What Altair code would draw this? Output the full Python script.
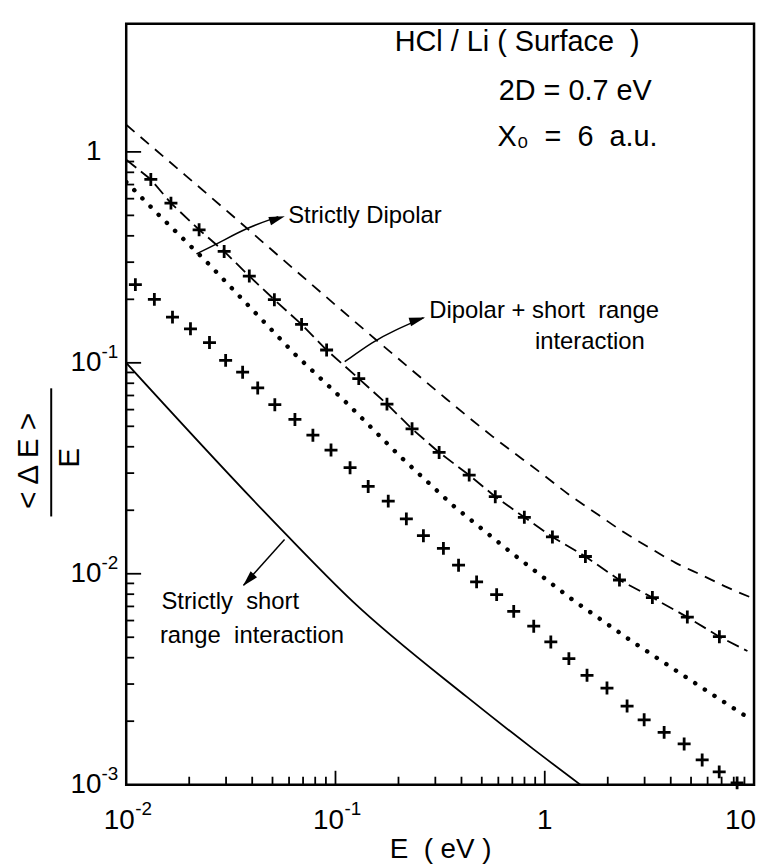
import altair as alt
import pandas as pd

# ---------------- values ----------------
# upper dashed curve
DASH_E = [0.01, 0.0178, 0.0316, 0.0562, 0.1, 0.178, 0.316, 0.562, 1.0, 1.33, 1.78, 2.37, 3.16, 4.22, 5.62, 7.5, 10]
DASH_R = [1.345, 0.825, 0.506, 0.308, 0.188, 0.1152, 0.0714, 0.0448, 0.0291, 0.0234, 0.0192, 0.0158, 0.0133, 0.01126, 0.00986, 0.00859, 0.00762]

# dashed curve with "+" markers (Dipolar + short range interaction)
DP_START = (0.01, 0.918)
DP_END = (9.3, 0.0043)
DP_E = [0.01311, 0.01636, 0.0223, 0.02938, 0.03874, 0.05105, 0.06886, 0.0907, 0.1292, 0.1762, 0.2322,
        0.3128, 0.4354, 0.5801, 0.7988, 1.088, 1.564, 2.275, 3.268, 4.80, 6.83]
DP_R = [0.740, 0.5715, 0.4273, 0.3374, 0.2577, 0.1991, 0.1521, 0.1150, 0.0842, 0.0637, 0.04864,
        0.03758, 0.02936, 0.02319, 0.01852, 0.01495, 0.01207, 0.00934, 0.00771, 0.00623, 0.00503]

# dotted curve (Strictly Dipolar)
DOT_E = [0.01, 0.0139, 0.02417, 0.0641, 0.1141, 0.2023, 0.3634, 0.6895, 1.335, 2.587, 5.12, 8.69, 9.3]
DOT_R = [0.72, 0.5169, 0.3018, 0.1096, 0.0640, 0.0362, 0.02112, 0.01262, 0.00762, 0.00481, 0.00307, 0.00218, 0.00209]

# "+" markers only
PL_E = [0.01106, 0.01363, 0.01664, 0.02028, 0.025, 0.02986, 0.036, 0.0425, 0.0513, 0.064, 0.078, 0.0952,
        0.1174, 0.1433, 0.1787, 0.2181, 0.2631, 0.3279, 0.3873, 0.4724, 0.589, 0.7107, 0.8857, 1.069,
        1.304, 1.592, 1.983, 2.474, 2.985, 3.719, 4.635, 5.652, 6.817, 8.3]
PL_R = [0.2348, 0.1999, 0.1647, 0.1449, 0.1247, 0.1027, 0.0903, 0.0760, 0.0633, 0.0539, 0.0454, 0.0386,
        0.03184, 0.02594, 0.02209, 0.0182, 0.01515, 0.01319, 0.01098, 0.00915, 0.00796, 0.00663, 0.00564, 0.00475,
        0.00396, 0.0033, 0.00287, 0.00236, 0.00203, 0.00177, 0.00156, 0.00131, 0.00115, 0.00102]

# solid curve (Strictly short range interaction)
SOL_E = [0.01, 0.0552, 0.1211, 0.426, 0.8825, 1.48]
SOL_R = [0.1, 0.01619, 0.00738, 0.0026, 0.001474, 0.001]

# axis ticks and tick labels
X_MAJOR = [0.1, 1]
X_MINOR = [0.02, 0.03, 0.04, 0.05, 0.06, 0.07, 0.08, 0.09,
           0.2, 0.3, 0.4, 0.5, 0.6, 0.7, 0.8, 0.9,
           2, 3, 4, 5, 6, 7, 8, 9]
Y_MAJOR = [0.01, 0.1, 1]
Y_MINOR = [0.002, 0.003, 0.004, 0.005, 0.006, 0.007, 0.008, 0.009,
           0.02, 0.03, 0.04, 0.05, 0.06, 0.07, 0.08, 0.09,
           0.2, 0.3, 0.4, 0.5, 0.6, 0.7, 0.8, 0.9]
X_POW_E = [0.01, 0.1]
X_POW_BASE = ["10", "10"]
X_POW_EXP = ["-2", "-1"]
X_ONE_E = [1]
X_TEN_E = [10]
Y_POW_R = [0.001, 0.01, 0.1]
Y_POW_BASE = ["10", "10", "10"]
Y_POW_EXP = ["-3", "-2", "-1"]
Y_ONE_R = [1]

# annotations (text, E, <dE>/E)
NB = "\u00a0"
INFO_TEXT = ["HCl / Li ( Surface" + NB + NB + ")", "2D = 0.7 eV", "X\u2080" + NB + " =" + NB + " 6" + NB + " a.u."]
INFO_E = [0.192, 0.603, 0.594]
INFO_R = [3.31, 1.95, 1.18]

NOTE_TEXT = ["Strictly Dipolar", "Dipolar + short" + NB + " range", "interaction",
             "Strictly" + NB + " short", "range" + NB + " interaction"]
NOTE_E = [0.0594, 0.2808, 0.8974, 0.01473, 0.01449]
NOTE_R = [0.499, 0.1768, 0.1253, 0.00733, 0.00505]

ARROW_ID = [1, 1, 1, 1, 2, 2, 2, 2, 3, 3]
ARROW_E = [0.02165, 0.02749, 0.03724, 0.0533, 0.1107, 0.1514, 0.1881, 0.2633, 0.0571, 0.03636]
ARROW_R = [0.3287, 0.3678, 0.435, 0.4928, 0.1012, 0.1264, 0.1413, 0.1637, 0.01452, 0.00883]
HEAD_E = [0.0527, 0.2465, 0.03836]
HEAD_R = [0.482, 0.160, 0.00933]
HEAD_ANGLE = [342, 344, 133]

# ---------------- chart ----------------
W, H = 632, 766
FONT = "Liberation Sans"
XS = alt.Scale(type="log", domain=[0.01, 10], nice=False)
YS = alt.Scale(type="log", domain=[0.001, 4.05], nice=False)
PLUS = "M-1,0H1M0,-1V1"
HEAD = "M1,0L-1,-0.55L-1,0.55Z"

X_AXIS = alt.Axis(labels=False, ticks=False, domain=False, grid=False,
                  titleFont=FONT, titleFontSize=28, titleFontWeight="normal",
                  titleColor="black", titleY=73, titleBaseline="alphabetic")
Y_AXIS = alt.Axis(labels=False, ticks=False, domain=False, grid=False)

X_ENC = alt.X("E:Q", scale=XS, axis=X_AXIS, title="E" + NB + " ( eV )")
Y_ENC = alt.Y("R:Q", scale=YS, axis=Y_AXIS, title="")


def df(e, r):
    return pd.DataFrame({"E": e, "R": r})


sol_line = alt.Chart(df(SOL_E, SOL_R)).mark_line(
    color="black", strokeWidth=1.8, clip=True, interpolate="monotone").encode(x=X_ENC, y=Y_ENC)
dash_line = alt.Chart(df(DASH_E, DASH_R)).mark_line(
    color="black", strokeWidth=1.8, strokeDash=[11, 8], clip=True, interpolate="monotone").encode(x=X_ENC, y=Y_ENC)
dp_line = alt.Chart(df([DP_START[0]] + DP_E + [DP_END[0]], [DP_START[1]] + DP_R + [DP_END[1]])).mark_line(
    color="black", strokeWidth=1.8, strokeDash=[13, 6], clip=True).encode(x=X_ENC, y=Y_ENC)
dp_pts = alt.Chart(df(DP_E, DP_R)).mark_point(
    shape=PLUS, size=170, filled=False, color="black", strokeWidth=2.8, opacity=1).encode(x=X_ENC, y=Y_ENC)
dot_line = alt.Chart(df(DOT_E, DOT_R)).mark_line(
    color="black", strokeWidth=4.5, strokeDash=[0.1, 11.5], strokeCap="round", clip=True).encode(x=X_ENC, y=Y_ENC)
pl_pts = alt.Chart(df(PL_E, PL_R)).mark_point(
    shape=PLUS, size=170, filled=False, color="black", strokeWidth=2.8, opacity=1).encode(x=X_ENC, y=Y_ENC)


# ticks (drawn inward)
def xticks(vals, length):
    return alt.Chart(pd.DataFrame({"E": vals})).mark_rule(color="black", strokeWidth=1.8).encode(
        x=X_ENC, y=alt.value(H), y2=alt.value(H - length))


def yticks(vals, length):
    return alt.Chart(pd.DataFrame({"R": vals})).mark_rule(color="black", strokeWidth=1.8).encode(
        y=Y_ENC, x=alt.value(0), x2=alt.value(length))


# tick labels: base "10" with raised exponent
x_pow_df = pd.DataFrame({"E": X_POW_E, "b": X_POW_BASE, "p": X_POW_EXP})
x_base = alt.Chart(x_pow_df).mark_text(font=FONT, fontSize=28, align="center", baseline="middle",
                                        dx=-7, color="black").encode(x=X_ENC, y=alt.value(H + 37), text="b:N")
x_exp = alt.Chart(x_pow_df).mark_text(font=FONT, fontSize=19, align="left", baseline="middle",
                                       dx=9, color="black").encode(x=X_ENC, y=alt.value(H + 25), text="p:N")
x_one = alt.Chart(pd.DataFrame({"E": X_ONE_E, "b": ["1"]})).mark_text(
    font=FONT, fontSize=28, align="center", baseline="middle", color="black").encode(
    x=X_ENC, y=alt.value(H + 37), text="b:N")
x_ten = alt.Chart(pd.DataFrame({"E": X_TEN_E, "b": ["10"]})).mark_text(
    font=FONT, fontSize=28, align="right", baseline="middle", dx=2, color="black").encode(
    x=X_ENC, y=alt.value(H + 37), text="b:N")

y_pow_df = pd.DataFrame({"R": Y_POW_R, "b": Y_POW_BASE, "p": Y_POW_EXP})
y_base = alt.Chart(y_pow_df).mark_text(font=FONT, fontSize=28, align="right", baseline="middle",
                                        color="black").encode(y=Y_ENC, x=alt.value(-25), text="b:N")
y_exp = alt.Chart(y_pow_df).mark_text(font=FONT, fontSize=19, align="left", baseline="middle",
                                       dy=-11, color="black").encode(y=Y_ENC, x=alt.value(-25), text="p:N")
y_one = alt.Chart(pd.DataFrame({"R": Y_ONE_R, "b": ["1"]})).mark_text(
    font=FONT, fontSize=28, align="right", baseline="middle", color="black").encode(
    y=Y_ENC, x=alt.value(-25), text="b:N")

# annotations
info = alt.Chart(pd.DataFrame({"E": INFO_E, "R": INFO_R, "t": INFO_TEXT})).mark_text(
    font=FONT, fontSize=29, align="left", baseline="middle", color="black").encode(x=X_ENC, y=Y_ENC, text="t:N")
notes = alt.Chart(pd.DataFrame({"E": NOTE_E, "R": NOTE_R, "t": NOTE_TEXT})).mark_text(
    font=FONT, fontSize=24, align="left", baseline="middle", color="black").encode(x=X_ENC, y=Y_ENC, text="t:N")
arrows = alt.Chart(pd.DataFrame({"id": ARROW_ID, "E": ARROW_E, "R": ARROW_R,
                                 "o": list(range(len(ARROW_E)))})).mark_line(
    color="black", strokeWidth=1.5, interpolate="basis").encode(x=X_ENC, y=Y_ENC, detail="id:N", order="o:Q")
heads = alt.Chart(pd.DataFrame({"E": HEAD_E, "R": HEAD_R, "a": HEAD_ANGLE})).mark_point(
    shape=HEAD, size=256, filled=True, color="black", opacity=1).encode(
    x=X_ENC, y=Y_ENC, angle=alt.Angle("a:Q", scale=None))

# y-axis title  <ΔE> / E
ynum = alt.Chart(pd.DataFrame({"t": ["< \u0394 E >"]})).mark_text(
    font=FONT, fontSize=30, angle=270, align="center", baseline="middle", color="black").encode(
    x=alt.value(-98), y=alt.value(440), text="t:N")
ybar = alt.Chart(pd.DataFrame({"t": [1]})).mark_rule(color="black", strokeWidth=2).encode(
    x=alt.value(-75.5), y=alt.value(367), y2=alt.value(496))
yden = alt.Chart(pd.DataFrame({"t": ["E"]})).mark_text(
    font=FONT, fontSize=30, angle=270, align="center", baseline="middle", color="black").encode(
    x=alt.value(-57), y=alt.value(437), text="t:N")

chart = alt.layer(
    sol_line, dash_line, dp_line, dp_pts, dot_line, pl_pts,
    xticks(X_MINOR, 8), xticks(X_MAJOR, 14), yticks(Y_MINOR, 8), yticks(Y_MAJOR, 15),
    x_base, x_exp, x_one, x_ten, y_base, y_exp, y_one,
    info, notes, arrows, heads, ynum, ybar, yden,
).properties(
    width=W, height=H,
    autosize=alt.AutoSizeParams(type="none"),
    padding={"left": 119, "top": 13, "right": 5, "bottom": 78},
).configure_view(stroke="black", strokeWidth=2.5)

chart.save("out.html", embed_options={"renderer": "svg", "actions": False})
